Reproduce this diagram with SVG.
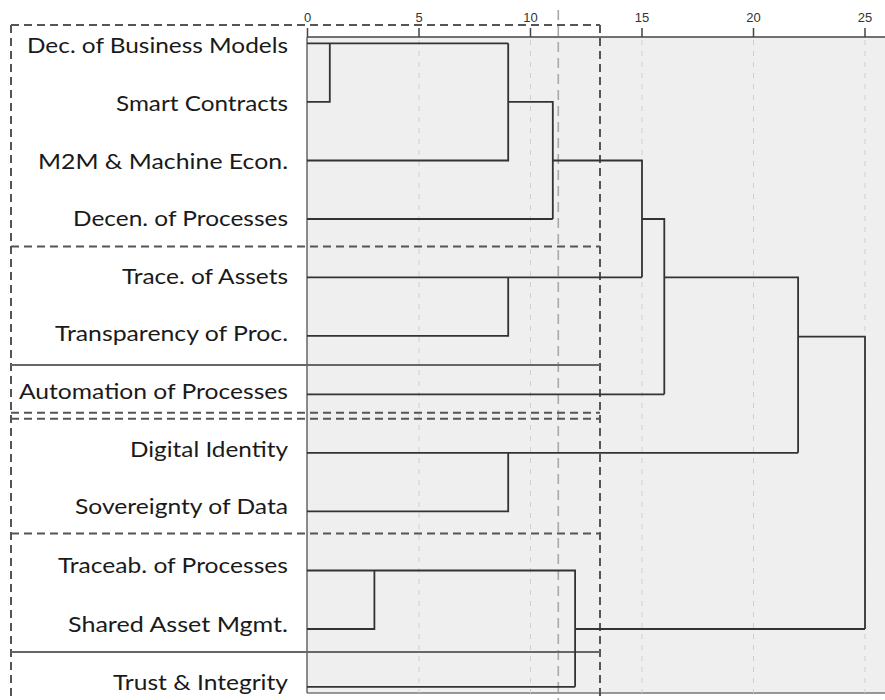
<svg xmlns="http://www.w3.org/2000/svg" width="885" height="700" viewBox="0 0 885 700">
  <style>
    .lbl { font-family: Lato, "Open Sans", "Liberation Sans", sans-serif; font-size: 21.5px; fill: #1a1a1a; text-anchor: end; }
    .tick-lbl { font-family: "Liberation Sans", Arial, sans-serif; font-size: 13px; fill: #333; text-anchor: middle; }
    .grid { stroke: #cfcfcf; stroke-width: 1; stroke-dasharray: 5 6; fill: none; }
    .cut { stroke: #a8a8a8; stroke-width: 1.6; stroke-dasharray: 10 6; fill: none; }
    .box { stroke: #555; stroke-width: 2; stroke-dasharray: 8 5; fill: none; }
    .solid-sep { stroke: #666; stroke-width: 1.8; fill: none; }
    .axis { stroke: #444; stroke-width: 1.5; fill: none; }
    .link { stroke: #333; stroke-width: 1.8; fill: none; stroke-linejoin: miter; }
  </style>

  <rect width="885" height="700" fill="#ffffff"/>

  <!-- plot area -->
  <rect x="307" y="37" width="578" height="656" fill="#efefef"/>
  <line x1="307" y1="693" x2="885" y2="693" stroke="#777" stroke-width="1.5"/>
  <line x1="307" y1="37" x2="307" y2="693" stroke="#666" stroke-width="1.5"/>

  <!-- distance grid -->
  <g id="grid">
    <line class="grid" x1="419" y1="40" x2="419" y2="693"/>
    <line class="grid" x1="530.5" y1="40" x2="530.5" y2="693"/>
    <line class="grid" x1="642" y1="40" x2="642" y2="693"/>
    <line class="grid" x1="753.5" y1="40" x2="753.5" y2="693"/>
    <line class="grid" x1="865" y1="40" x2="865" y2="693"/>
  </g>

  <!-- distance axis -->
  <g id="axis">
    <line class="axis" x1="307" y1="37" x2="885" y2="37"/>
    <path class="axis" d="M307.5,28V37 M419,28V37 M530.5,28V37 M642,28V37 M753.5,28V37 M865,28V37"/>
    <text class="tick-lbl" x="307.5" y="22">0</text>
    <text class="tick-lbl" x="419" y="22">5</text>
    <text class="tick-lbl" x="530.5" y="22">10</text>
    <text class="tick-lbl" x="642" y="22">15</text>
    <text class="tick-lbl" x="753.5" y="22">20</text>
    <text class="tick-lbl" x="865" y="22">25</text>
  </g>

  <!-- cut-off line -->
  <line id="cutoff" class="cut" x1="558.3" y1="10" x2="558.3" y2="700"/>

  <!-- cluster frames -->
  <g id="cluster-frames">
    <line class="box" x1="11" y1="25" x2="600" y2="25"/>
    <line class="box" x1="11" y1="25" x2="11" y2="700"/>
    <line class="box" x1="600" y1="25" x2="600" y2="700"/>
    <line class="box" x1="11" y1="246.5" x2="600" y2="246.5"/>
    <line class="solid-sep" x1="11" y1="365" x2="600" y2="365"/>
    <line class="box" x1="11" y1="412.7" x2="600" y2="412.7"/>
    <line class="box" x1="11" y1="418.7" x2="600" y2="418.7"/>
    <line class="box" x1="11" y1="533.5" x2="600" y2="533.5"/>
    <line class="solid-sep" x1="11" y1="652" x2="600" y2="652"/>
  </g>

  <!-- dendrogram links -->
  <g id="connectors">
    <path class="link" d="M307,43.3H508.2"/>
    <path class="link" d="M307,101.8H329.8V43.3"/>
    <path class="link" d="M307,160.5H508.2V43.3"/>
    <path class="link" d="M508.2,101.8H552.8V219"/>
    <path class="link" d="M307,219H552.8"/>
    <path class="link" d="M552.8,160.5H642V277.3"/>
    <path class="link" d="M307,277.3H642"/>
    <path class="link" d="M307,335.8H508.2V277.3"/>
    <path class="link" d="M642,219H664.3V394.3"/>
    <path class="link" d="M307,394.3H664.3"/>
    <path class="link" d="M664.3,277.3H798.1V452.8"/>
    <path class="link" d="M307,452.8H798.1"/>
    <path class="link" d="M307,511.3H508.2V452.8"/>
    <path class="link" d="M798.1,336.7H865V629"/>
    <path class="link" d="M307,570.5H575.1V686.8"/>
    <path class="link" d="M307,629H374.4V570.5"/>
    <path class="link" d="M307,686.8H575.1"/>
    <path class="link" d="M575.1,629H865"/>
  </g>

  <!-- leaves -->
  <g id="leaf-dec-business-models"><text class="lbl" x="288" y="53" textLength="261" lengthAdjust="spacingAndGlyphs">Dec. of Business Models</text></g>
  <g id="leaf-smart-contracts"><text class="lbl" x="288" y="110.5" textLength="172" lengthAdjust="spacingAndGlyphs">Smart Contracts</text></g>
  <g id="leaf-m2m"><text class="lbl" x="288" y="169" textLength="250" lengthAdjust="spacingAndGlyphs">M2M &amp; Machine Econ.</text></g>
  <g id="leaf-decen-processes"><text class="lbl" x="288" y="225.5" textLength="215" lengthAdjust="spacingAndGlyphs">Decen. of Processes</text></g>
  <g id="leaf-trace-assets"><text class="lbl" x="288" y="283.5" textLength="166" lengthAdjust="spacingAndGlyphs">Trace. of Assets</text></g>
  <g id="leaf-transparency"><text class="lbl" x="288" y="341" textLength="233" lengthAdjust="spacingAndGlyphs">Transparency of Proc.</text></g>
  <g id="leaf-automation"><text class="lbl" x="288" y="398.5" textLength="269" lengthAdjust="spacingAndGlyphs">Automation of Processes</text></g>
  <g id="leaf-digital-identity"><text class="lbl" x="288" y="456.5" textLength="158" lengthAdjust="spacingAndGlyphs">Digital Identity</text></g>
  <g id="leaf-sovereignty"><text class="lbl" x="288" y="513.5" textLength="213" lengthAdjust="spacingAndGlyphs">Sovereignty of Data</text></g>
  <g id="leaf-traceab-processes"><text class="lbl" x="288" y="573" textLength="230" lengthAdjust="spacingAndGlyphs">Traceab. of Processes</text></g>
  <g id="leaf-shared-asset"><text class="lbl" x="288" y="632" textLength="220" lengthAdjust="spacingAndGlyphs">Shared Asset Mgmt.</text></g>
  <g id="leaf-trust-integrity"><text class="lbl" x="288" y="690" textLength="175" lengthAdjust="spacingAndGlyphs">Trust &amp; Integrity</text></g>
</svg>
